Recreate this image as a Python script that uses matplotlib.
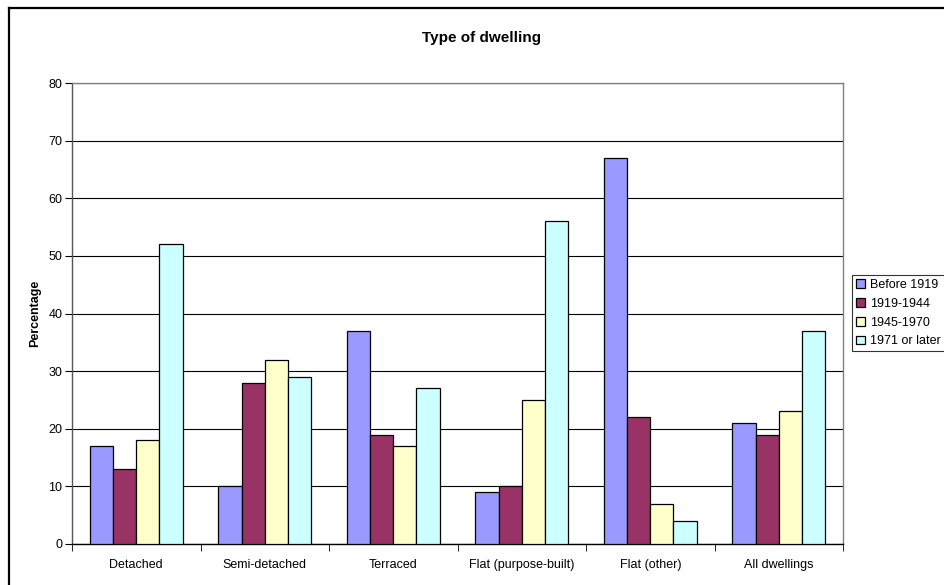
import numpy as np
import matplotlib.pyplot as plt
from matplotlib.lines import Line2D

plt.rcParams['font.family'] = ['Liberation Sans', 'DejaVu Sans']

categories = ['Detached', 'Semi-detached', 'Terraced', 'Flat (purpose-built)',
              'Flat (other)', 'All dwellings']
series_names = ['Before 1919', '1919-1944', '1945-1970', '1971 or later']
before_1919 = [17, 10, 37, 9, 67, 21]
y1919_1944 = [13, 28, 19, 10, 22, 19]
y1945_1970 = [18, 32, 17, 25, 7, 23]
y1971_later = [52, 29, 27, 56, 4, 37]
colors = ['#9999FF', '#993366', '#FFFFCC', '#CCFFFF']

W, H = 944, 585
fig = plt.figure(figsize=(W / 100, H / 100), dpi=100)
ax = fig.add_axes([72 / W, 1 - 544 / H, (843 - 72) / W, (544 - 83) / H])

# chart border (only top and left fall inside the image)
fig.add_artist(Line2D([8.5 / W, 8.5 / W], [0, 1 - 7.5 / H], transform=fig.transFigure,
                      color='black', linewidth=1.6))
fig.add_artist(Line2D([8.5 / W, 1], [1 - 7.5 / H, 1 - 7.5 / H], transform=fig.transFigure,
                      color='black', linewidth=1.6))

x = np.arange(len(categories))
w = 0.18
data = [before_1919, y1919_1944, y1945_1970, y1971_later]
for i, (vals, name) in enumerate(zip(data, series_names)):
    ax.bar(x + (i - 1.5) * w, vals, width=w, color=colors[i], edgecolor='black',
           linewidth=0.9, label=name, zorder=3)

ax.set_xlim(-0.5, len(categories) - 0.5)
ax.set_ylim(0, 80)
ax.set_yticks(range(0, 81, 10))
ax.yaxis.grid(True, color='black', linewidth=0.8, zorder=0)
ax.set_axisbelow(True)

# category labels centred, tick marks between categories
ax.set_xticks(x)
ax.set_xticklabels(categories, fontsize=9)
ax.tick_params(axis='x', length=0, pad=11)
ax.set_xticks(np.arange(-0.5, len(categories)), minor=True)
ax.tick_params(axis='x', which='minor', length=5, direction='out', color='black')
ax.tick_params(axis='y', length=5, direction='out', labelsize=9, pad=2)

ax.spines['top'].set_color('#808080')
ax.spines['right'].set_color('#808080')
ax.spines['left'].set_color('#555555')
ax.spines['bottom'].set_color('black')
for s in ax.spines.values():
    s.set_linewidth(1.0)

fig.text(35 / W, 1 - 313 / H, 'Percentage', rotation=90, ha='center', va='center',
         fontsize=9, fontweight='bold')
fig.text(482 / W, 1 - 38 / H, 'Type of dwelling', ha='center', va='center',
         fontsize=11, fontweight='bold')

leg = ax.legend(loc='upper left', bbox_to_anchor=(852 / W, 1 - 275 / H),
                bbox_transform=fig.transFigure, fontsize=9, frameon=True,
                fancybox=False, edgecolor='black', borderpad=0.3,
                labelspacing=0.55, handlelength=0.7, handleheight=0.7,
                handletextpad=0.45, borderaxespad=0)
leg.get_frame().set_linewidth(0.8)

fig.savefig('out.png', dpi=100)
